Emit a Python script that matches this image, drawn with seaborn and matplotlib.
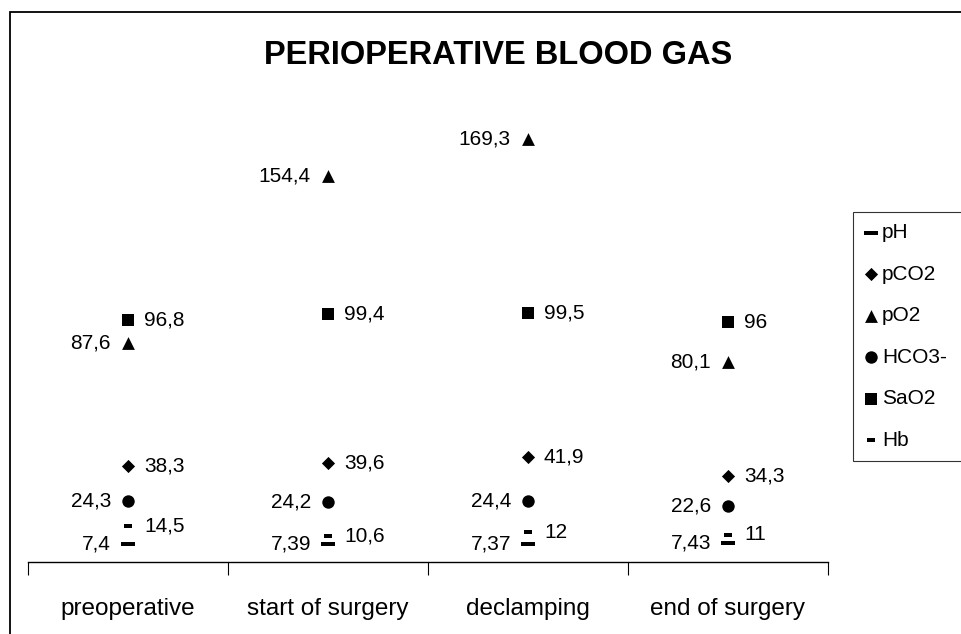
import matplotlib
matplotlib.use("Agg")
import matplotlib.pyplot as plt
import seaborn as sns
from matplotlib.patches import Rectangle

# ── Data ──────────────────────────────────────────────────────────────────────
categories = ["preoperative", "start of surgery", "declamping", "end of surgery"]
pH   = [7.4, 7.39, 7.37, 7.43]
pCO2 = [38.3, 39.6, 41.9, 34.3]
pO2  = [87.6, 154.4, 169.3, 80.1]
HCO3 = [24.3, 24.2, 24.4, 22.6]
SaO2 = [96.8, 99.4, 99.5, 96]
Hb   = [14.5, 10.6, 12, 11]

series_names = ["pH", "pCO2", "pO2", "HCO3-", "SaO2", "Hb"]
series_vals  = [pH, pCO2, pO2, HCO3, SaO2, Hb]

# marker styles (wide dash for pH, short dash for Hb)
wide_dash  = [(-1, -0.28), (1, -0.28), (1, 0.28), (-1, 0.28), (-1, -0.28)]
short_dash = [(-1, -0.55), (1, -0.55), (1, 0.55), (-1, 0.55), (-1, -0.55)]
markers = [wide_dash, "D", "^", "o", "s", short_dash]
sizes   = [95, 45, 85, 80, 70, 28]
sides   = ["left", "right", "left", "left", "right", "right"]

sns.set_style("white")
plt.rcParams["font.family"] = ["Liberation Sans", "DejaVu Sans"]
plt.rcParams["text.color"] = "black"
plt.rcParams["xtick.color"] = "black"
plt.rcParams["xtick.labelcolor"] = "black"

W, H = 961, 634
fig = plt.figure(figsize=(W / 100, H / 100), dpi=100)
ax = fig.add_axes([28 / W, 1 - 562 / H, 800 / W, (562 - 62) / H])

for name, vals, mk, sz, side in zip(series_names, series_vals, markers, sizes, sides):
    sns.scatterplot(x=categories, y=vals, marker=mk, s=sz, color="black",
                    edgecolor="black", linewidth=0, ax=ax, label=name)
    dx = -17 if side == "left" else 16
    for i, v in enumerate(vals):
        ax.annotate(f"{v:g}".replace(".", ","), (i, v), xytext=(dx, 0),
                    textcoords="offset pixels",
                    ha="right" if side == "left" else "left", va="center",
                    fontsize=15, color="black")

ax.set_xlim(-0.5, len(categories) - 0.5)
ax.set_ylim(0, 200)
ax.set_yticks([])
ax.set_ylabel("")
for s in ["top", "right", "left"]:
    ax.spines[s].set_visible(False)
ax.spines["bottom"].set_color("black")
ax.spines["bottom"].set_linewidth(1)
ax.set_xticks(range(len(categories)))
ax.set_xticklabels(categories, fontsize=17.5)
ax.tick_params(axis="x", which="major", length=0, pad=26)
ax.set_xticks([i - 0.5 for i in range(len(categories) + 1)], minor=True)
ax.tick_params(axis="x", which="minor", bottom=True, length=9, width=0.8,
               color="black", direction="out")

ax.get_legend().remove()
handles, labels = ax.get_legend_handles_labels()
leg = fig.legend(handles, labels, loc="upper left",
                 bbox_to_anchor=(853 / W, 1 - 212 / H, 0.2, 0.0),
                 mode="expand", frameon=True, fancybox=False, fontsize=15,
                 labelspacing=1.08, handlelength=0.6, handletextpad=0.25,
                 borderpad=0.55, borderaxespad=0)
leg.get_frame().set_edgecolor("black")
leg.get_frame().set_linewidth(0.8)

fig.text(498 / W, 1 - 55 / H, "PERIOPERATIVE BLOOD GAS", ha="center", va="center",
         fontsize=23.5, fontweight="bold")

# outer chart frame (cropped on right and bottom)
fig.patches.append(Rectangle((10 / W, -0.1), 1.2, 1.1 - 12 / H, transform=fig.transFigure,
                             fill=False, edgecolor="black", linewidth=1.3))

fig.savefig("out.png", dpi=100)
